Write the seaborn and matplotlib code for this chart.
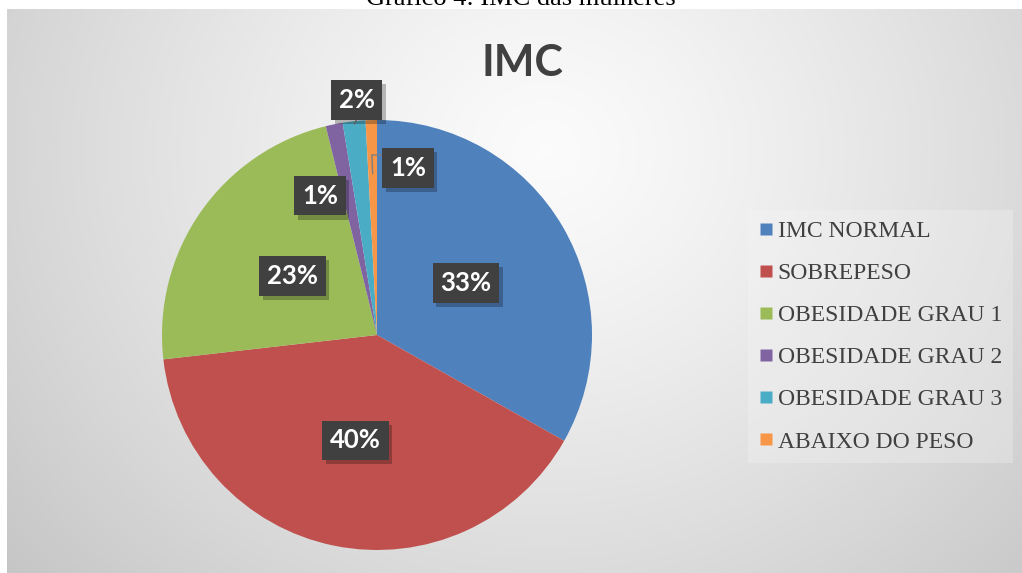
import numpy as np
import matplotlib
matplotlib.use("Agg")
import matplotlib.pyplot as plt
import seaborn as sns
from matplotlib.lines import Line2D
from matplotlib import patheffects as pe
from matplotlib.font_manager import FontProperties

# ---------------- data ----------------
categories = ["IMC NORMAL", "SOBREPESO", "OBESIDADE GRAU 1",
              "OBESIDADE GRAU 2", "OBESIDADE GRAU 3", "ABAIXO DO PESO"]
counts = [78, 94, 54, 3, 4, 2]
pct_labels = ["33%", "40%", "23%", "1%", "2%", "1%"]
colors = ["#4F81BD", "#C0504D", "#9BBB59", "#8064A2", "#4BACC6", "#F79646"]
title = "IMC"
caption = "Gráfico 4: IMC das mulheres"

sns.set_theme(style="white")
palette = sns.color_palette(colors)

W, H = 1022, 573
fig = plt.figure(figsize=(W / 100, H / 100), dpi=100)
fig.patch.set_facecolor("white")

# ---------------- background (radial gradient, RGB to avoid banding) ----------------
bg = fig.add_axes([7 / W, 0, (W - 7) / W, (H - 9) / H])
yy, xx = np.mgrid[9:H, 7:W]
d = np.hypot(xx - 545.0, (yy - 150.0) * 1.1)
d = d / d.max()
shade = 0.985 - 0.21 * d ** 1.25
img = np.dstack([shade, shade, shade])
bg.imshow(img, aspect="auto", interpolation="bilinear")
bg.axis("off")

# ---------------- pie ----------------
cx, cy, R = 377, 335, 215
ax = fig.add_axes([(cx - R) / W, (H - cy - R) / H, 2 * R / W, 2 * R / H])
wedges, _ = ax.pie(counts, colors=palette, startangle=90, counterclock=False,
                   radius=1.0, wedgeprops=dict(linewidth=0), frame=False)
ax.set_xlim(-1, 1)
ax.set_ylim(-1, 1)
ax.set_aspect("equal")
ax.axis("off")

# label placement: (radius, angle shift in degrees)
placement = [(0.48, 0), (0.50, 0), (0.48, 0), (0.70, 10.8), (1.097, -1.2), (0.79, -12)]
lab_font = FontProperties(family="Lato", weight="bold", size=18.5)
px = 1.0 / R  # one pixel in data units

for i, w in enumerate(wedges):
    mid = np.deg2rad((w.theta1 + w.theta2) / 2)
    r, shift = placement[i]
    ang = mid + np.deg2rad(shift)
    x, y = r * np.cos(ang), r * np.sin(ang)
    t = ax.text(x, y, pct_labels[i], fontproperties=lab_font, color="white",
                ha="center", va="center", zorder=6,
                bbox=dict(boxstyle="square,pad=0.3", facecolor="#404040",
                          edgecolor="none"))
    t.get_bbox_patch().set_path_effects(
        [pe.SimplePatchShadow(offset=(2.5, -3), shadow_rgbFace="black", alpha=0.25),
         pe.Normal()])
    if i == 4:  # leader line under the "2%" box
        ax.plot([np.cos(mid) * 0.985, x], [np.sin(mid) * 0.985, y - 19 * px],
                color="#7f7f7f", lw=1, zorder=3)
    if i == 5:  # leader line for the orange slice
        bx = x - 25 * px
        ax.plot([bx, bx - 11 * px, np.cos(mid) * 0.75],
                [y + 13 * px, y + 13 * px, np.sin(mid) * 0.75],
                color="#7f7f7f", lw=1, zorder=3)

# ---------------- title & caption ----------------
fig.text(522 / W, 1 - 76 / H, title, fontfamily="Lato", fontweight="bold",
         fontsize=31, color="#404040", ha="center", va="baseline")
fig.text(521 / W, 1 - 5 / H, caption, fontfamily="Liberation Serif",
         fontsize=19, color="black", ha="center", va="baseline")

# ---------------- legend ----------------
handles = [Line2D([0], [0], marker="s", linestyle="none", markersize=8.5,
                  markerfacecolor=c, markeredgecolor="none") for c in palette]
leg = fig.legend(handles, categories, loc="upper left",
                 bbox_to_anchor=(748 / W, 1 - 210 / H), borderaxespad=0,
                 prop=FontProperties(family="Liberation Serif", size=17),
                 labelcolor="#404040", frameon=True, fancybox=False,
                 handlelength=0.6, handletextpad=0.2, labelspacing=0.87,
                 borderpad=0.45)
leg.get_frame().set_facecolor("#f6f6f6")
leg.get_frame().set_alpha(0.3)
leg.get_frame().set_edgecolor("none")

fig.savefig("out.png", dpi=100)
